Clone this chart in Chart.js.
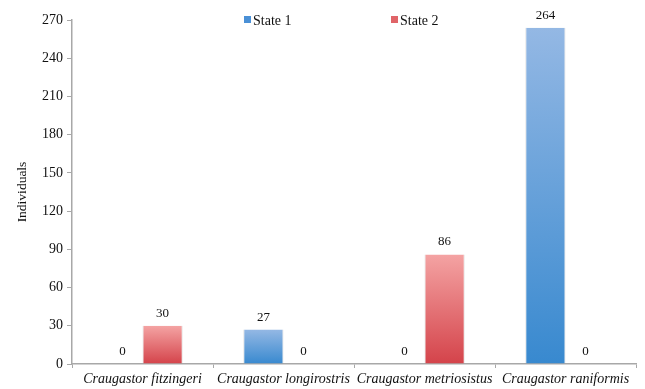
<!DOCTYPE html>
<html>
<head>
<meta charset="utf-8">
<script src="https://cdn.jsdelivr.net/npm/chart.js@4.4.1/dist/chart.umd.min.js"></script>
<style>
  html, body { margin: 0; padding: 0; background: #ffffff; }
  #wrap { width: 645px; height: 389px; }
</style>
</head>
<body>
<div id="wrap"><canvas id="chart" width="645" height="389"></canvas></div>
<script>
// Species observed and counts per state
const species = [
  'Craugastor fitzingeri',
  'Craugastor longirostris',
  'Craugastor metriosistus',
  'Craugastor raniformis'
];
const state1 = [0, 27, 0, 264];
const state2 = [30, 0, 86, 0];
const yTicks = [0, 30, 60, 90, 120, 150, 180, 210, 240, 270];

const SERIF = '"Liberation Serif", "Times New Roman", serif';

// vertical gradient spanning each bar from its top to the baseline
function barGradient(light, dark) {
  return function (ctx) {
    const chart = ctx.chart;
    const area = chart.chartArea;
    if (!area || ctx.type !== 'data') return dark;
    const y = chart.scales.y;
    const v = ctx.raw || 0;
    const top = y.getPixelForValue(v);
    const base = y.getPixelForValue(0);
    if (base - top < 1) return dark;
    const g = chart.ctx.createLinearGradient(0, top, 0, base);
    g.addColorStop(0, light);
    g.addColorStop(1, dark);
    return g;
  };
}

// values printed above every bar, zeros included
const valueLabels = {
  id: 'valueLabels',
  afterDatasetsDraw(chart) {
    const c = chart.ctx;
    c.save();
    c.font = '13px ' + SERIF;
    c.fillStyle = '#111';
    c.textAlign = 'center';
    c.textBaseline = 'bottom';
    chart.data.datasets.forEach((ds, di) => {
      chart.getDatasetMeta(di).data.forEach((bar, i) => {
        c.fillText(String(ds.data[i]), bar.x, bar.y - 6);
      });
    });
    c.restore();
  }
};

// legend drawn over the top of the plot
const topLegend = {
  id: 'topLegend',
  afterDraw(chart) {
    const c = chart.ctx;
    const xs = [244, 391];
    const y = 21;
    c.save();
    c.font = '14px ' + SERIF;
    c.textBaseline = 'middle';
    c.textAlign = 'left';
    chart.data.datasets.forEach((ds, i) => {
      c.fillStyle = ds.legendColor;
      c.fillRect(xs[i], y - 5, 7, 7);
      c.fillStyle = '#111';
      c.fillText(ds.label, xs[i] + 9, y);
    });
    c.restore();
  }
};

new Chart(document.getElementById('chart'), {
  type: 'bar',
  data: {
    labels: species,
    datasets: [
      {
        label: 'State 1',
        data: state1,
        legendColor: '#4a90d6',
        backgroundColor: barGradient('#94b8e4', '#3889cf'),
        borderColor: 'rgba(160,160,160,0.35)',
        borderWidth: { left: 1, right: 1, top: 0, bottom: 0 },
        borderSkipped: 'bottom',
        categoryPercentage: 0.57,
        barPercentage: 1.0
      },
      {
        label: 'State 2',
        data: state2,
        legendColor: '#e06468',
        backgroundColor: barGradient('#f4a3a3', '#d4434a'),
        borderColor: 'rgba(160,160,160,0.35)',
        borderWidth: { left: 1, right: 1, top: 0, bottom: 0 },
        borderSkipped: 'bottom',
        categoryPercentage: 0.57,
        barPercentage: 1.0
      }
    ]
  },
  options: {
    responsive: false,
    animation: false,
    devicePixelRatio: 1,
    layout: { padding: { left: 0, right: 9, top: 20, bottom: 0 } },
    plugins: {
      legend: { display: false },
      tooltip: { enabled: false }
    },
    scales: {
      x: {
        offset: true,
        grid: {
          offset: true,
          drawOnChartArea: false,
          drawTicks: true,
          tickLength: 4,
          color: '#a8a8a8'
        },
        border: { color: '#a8a8a8', width: 1.5 },
        ticks: {
          color: '#111',
          padding: 3,
          maxRotation: 0,
          autoSkip: false,
          font: { family: SERIF, size: 14, style: 'italic' }
        },
        afterFit(scale) { scale.height = 25; }
      },
      y: {
        min: 0,
        max: 270,
        afterBuildTicks(scale) {
          scale.ticks = yTicks.map(v => ({ value: v }));
        },
        grid: {
          drawOnChartArea: false,
          drawTicks: true,
          tickLength: 5,
          color: '#a8a8a8'
        },
        border: { color: '#a8a8a8', width: 1.5 },
        ticks: {
          color: '#111',
          padding: 4,
          font: { family: SERIF, size: 14 }
        },
        title: {
          display: true,
          text: 'Individuals',
          color: '#111',
          padding: { top: 14, bottom: 0 },
          font: { family: SERIF, size: 13.5 }
        },
        afterFit(scale) { scale.width = 72; }
      }
    }
  },
  plugins: [valueLabels, topLegend]
});
</script>
</body>
</html>
